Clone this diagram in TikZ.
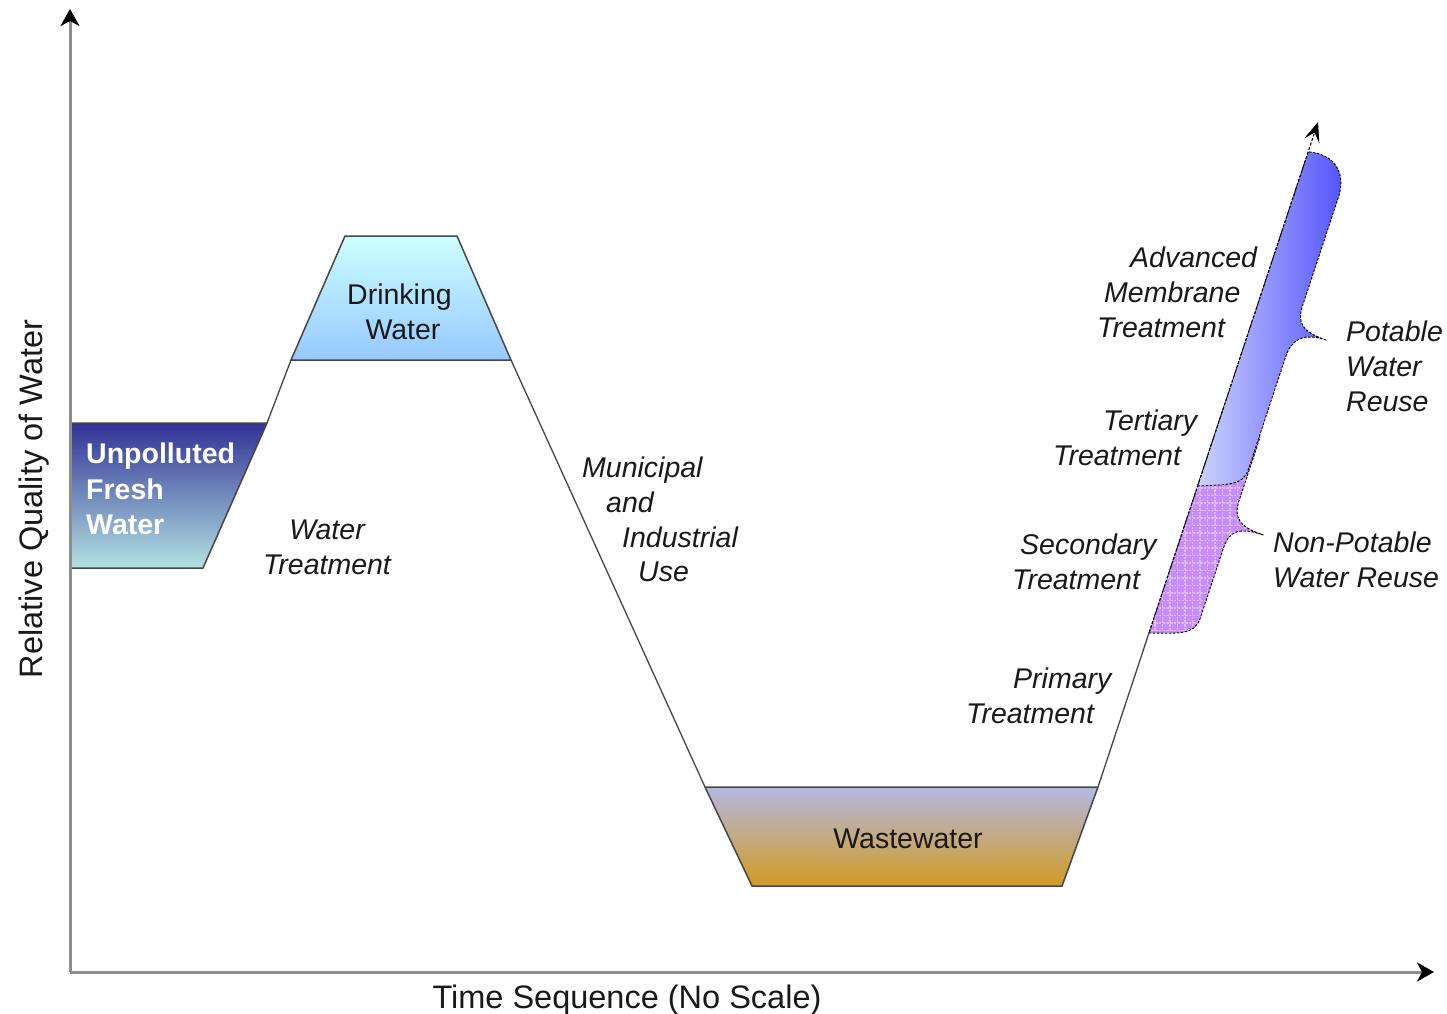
\documentclass[tikz,border=0pt]{standalone}
\usepackage{fontspec}
\setmainfont{Liberation Sans}
\usetikzlibrary{arrows.meta,calc,patterns.meta}

\definecolor{axisgray}{RGB}{140,140,140}
\definecolor{edge}{RGB}{70,70,70}
\definecolor{ufTop}{RGB}{50,50,150}
\definecolor{ufMid}{RGB}{112,130,185}
\definecolor{ufBot}{RGB}{178,226,226}
\definecolor{dwTop}{RGB}{204,255,255}
\definecolor{dwBot}{RGB}{150,200,255}
\definecolor{wwTop}{RGB}{180,184,226}
\definecolor{wwMid}{RGB}{196,170,162}
\definecolor{wwBot}{RGB}{210,155,35}
\definecolor{pwLeft}{RGB}{205,210,255}
\definecolor{pwRight}{RGB}{80,80,250}
\definecolor{npFill}{RGB}{198,140,252}
\definecolor{npGrid}{RGB}{222,186,255}
\definecolor{txt}{RGB}{25,25,25}

\begin{document}
\begin{tikzpicture}[x=1pt,y=-1pt,
  lbl/.style={font=\fontsize{28.5}{35}\selectfont\itshape, text=txt, inner sep=0pt, anchor=base},
  lblw/.style={lbl, anchor=base west},
  boxtxt/.style={font=\fontsize{28.5}{35}\selectfont, text=txt, inner sep=0pt, anchor=base},
  uftxt/.style={font=\fontsize{28.5}{35}\selectfont\bfseries, text=white, inner sep=0pt, anchor=base west},
  axislbl/.style={font=\fontsize{32.5}{40}\selectfont, text=txt, inner sep=0pt, anchor=base},
  axisline/.style={line width=3pt, draw=axisgray, -{Stealth[length=17pt,width=19pt,inset=5pt,black]}},
  link/.style={line width=1.3pt, draw=edge},
  trap/.style={line width=1.5pt, draw=edge},
  bracedge/.style={draw=black, line width=0.9pt, dash pattern=on 2.5pt off 1.5pt},
]
\useasboundingbox (0,0) rectangle (1447,1013);

% corner coordinates
\coordinate (O) at (70,972);
\coordinate (ytip) at (70,9);
\coordinate (xtip) at (1434,972);
\coordinate (uTL) at (70,423);
\coordinate (uTR) at (267,423);
\coordinate (uBR) at (203,568);
\coordinate (uBL) at (70,568);
\coordinate (dBL) at (291,360);
\coordinate (dTL) at (345,236);
\coordinate (dTR) at (457,236);
\coordinate (dBR) at (511,360);
\coordinate (wTL) at (705,787);
\coordinate (wTR) at (1098,787);
\coordinate (wBR) at (1062,886);
\coordinate (wBL) at (752,886);
\coordinate (tip) at (1318,122);
\coordinate (pb) at ($(wTR)!0.2316!(tip)$);
\coordinate (pbl) at ($(wTR)!0.4526!(tip)$);

% Unpolluted fresh water
\shade[top color=ufTop, middle color=ufMid, bottom color=ufBot]
  (uTL) -- (uTR) -- (uBR) -- (uBL) -- cycle;
\draw[trap] (uTL) -- (uTR) -- (uBR) -- (uBL);

% Drinking water
\shadedraw[trap, top color=dwTop, bottom color=dwBot]
  (dBL) -- (dTL) -- (dTR) -- (dBR) -- cycle;

% Wastewater
\shadedraw[trap, top color=wwTop, middle color=wwMid, bottom color=wwBot]
  (wTL) -- (wTR) -- (wBR) -- (wBL) -- cycle;

% connectors
\draw[link] (uTR) -- (dBL);
\draw[link] (dBR) -- (wTL);
\draw[link] (wTR) -- (pb);

% Non-potable band
\begin{scope}[shift={(pb)}, x={(0.9495pt,-0.3141pt)}, y={(0.3141pt,0.9495pt)}]
\path[bracedge, preaction={fill=npFill},
      pattern={Hatch[distance=7.5pt,line width=1.5pt]}, pattern color=npGrid]
  (0,0) .. controls (28,9) and (44,12) .. (44,30)
  -- (44,104) .. controls (44,122) and (52,129) .. (78,129)
  .. controls (52,129) and (44,136) .. (44,154)
  -- (44,215) .. controls (44,234) and (28,240) .. (0,240) -- cycle;
\end{scope}

% Potable band
\begin{scope}[shift={(pbl)}, x={(0.9495pt,-0.3141pt)}, y={(0.3141pt,0.9495pt)}]
\shadedraw[bracedge, left color=pwLeft, right color=pwRight]
  (0,0) .. controls (28,11) and (43,14) .. (43,32)
  -- (43,150) .. controls (43,168) and (51,179) .. (77,179)
  .. controls (51,179) and (43,186) .. (43,204)
  -- (43,318) .. controls (43,345) and (25,358) .. (0,352) -- cycle;
\end{scope}

\draw[line width=1pt, dash pattern=on 3pt off 1.8pt,
      -{Stealth[length=20pt,width=16pt,inset=9pt]}] (pb) -- (tip);

% axes
\draw[axisline] (O) -- (ytip);
\draw[axisline] (O) -- (xtip);

% texts
\node[uftxt] (uf1) at (86,463) {Unpolluted};
\node[uftxt] (uf2) at (86,499) {Fresh};
\node[uftxt] (uf3) at (86,534) {Water};

\node[boxtxt] (dw1) at (399.5,304) {Drinking};
\node[boxtxt] (dw2) at (403,339) {Water};
\node[boxtxt] (ww) at (908,848) {Wastewater};

\node[lbl] (wt1) at (327,539) {Water};
\node[lbl] (wt2) at (327,574) {Treatment};

\node[lblw] (mu1) at (582,477) {Municipal};
\node[lblw] (mu2) at (606,512) {and};
\node[lblw] (mu3) at (622,547) {Industrial};
\node[lblw] (mu4) at (638,581) {Use};

\node[lblw] (am1) at (1130,267) {Advanced};
\node[lblw] (am2) at (1104,302) {Membrane};
\node[lblw] (am3) at (1097,337) {Treatment};

\node[lblw] (tt1) at (1103,430) {Tertiary};
\node[lblw] (tt2) at (1053,465) {Treatment};

\node[lblw] (st1) at (1020,554) {Secondary};
\node[lblw] (st2) at (1012,589) {Treatment};

\node[lblw] (pt1) at (1013,688) {Primary};
\node[lblw] (pt2) at (966,723) {Treatment};

\node[lblw] (pr1) at (1346,341) {Potable};
\node[lblw] (pr2) at (1346,376) {Water};
\node[lblw] (pr3) at (1346,411) {Reuse};

\node[lblw] (np1) at (1273,552) {Non-Potable};
\node[lblw] (np2) at (1273,587) {Water Reuse};

\node[axislbl, rotate=90] (ylab) at (42,499) {Relative Quality of Water};
\node[axislbl] (xlab) at (627,1008) {Time Sequence (No Scale)};
\end{tikzpicture}
\end{document}
